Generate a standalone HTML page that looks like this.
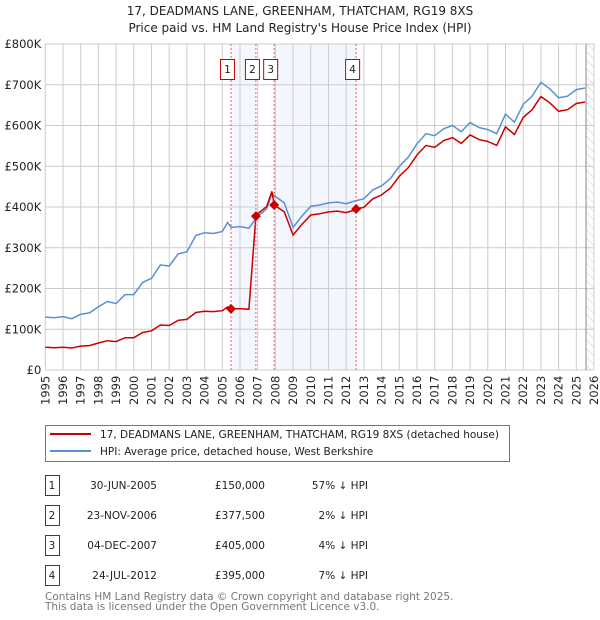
<!DOCTYPE html>
<html><head><meta charset="utf-8"><style>
body{margin:0;background:#fff;font-family:"DejaVu Sans","Liberation Sans",sans-serif;}
svg{display:block}
</style></head><body>
<svg id="chart" width="600" height="620" xmlns="http://www.w3.org/2000/svg" font-family="DejaVu Sans, Liberation Sans, sans-serif">
<defs><pattern id="hatch" width="6" height="6" patternUnits="userSpaceOnUse" patternTransform="rotate(-45)"><line x1="0" y1="0" x2="0" y2="6" stroke="#ccc" stroke-width="1"/></pattern></defs>
<text x="300" y="15" text-anchor="middle" font-size="12" fill="#222">17, DEADMANS LANE, GREENHAM, THATCHAM, RG19 8XS</text>
<text x="300" y="32" text-anchor="middle" font-size="12" fill="#222">Price paid vs. HM Land Registry's House Price Index (HPI)</text>
<g id="bg"></g><g id="grid"></g><g id="lines"></g><g id="marks"></g><g id="axes"></g>
<g>
<rect x="45.5" y="425.5" width="464" height="36" fill="#fff" stroke="#777"/>
<line x1="50" y1="434" x2="91" y2="434" stroke="#cc0000" stroke-width="2"/>
<text x="100" y="438" font-size="10.5" fill="#222">17, DEADMANS LANE, GREENHAM, THATCHAM, RG19 8XS (detached house)</text>
<line x1="50" y1="451" x2="91" y2="451" stroke="#5b8fd4" stroke-width="2"/>
<text x="100" y="455" font-size="10.5" fill="#222">HPI: Average price, detached house, West Berkshire</text>
</g>
<g id="table" font-size="10.5" fill="#222"></g>
<text x="45" y="600" font-size="10.5" fill="#777">Contains HM Land Registry data © Crown copyright and database right 2025.</text>
<text x="45" y="610" font-size="10.5" fill="#777">This data is licensed under the Open Government Licence v3.0.</text>
</svg>
<script>
const hpiYears=[1995,1995.5,1996,1996.5,1997,1997.5,1998,1998.5,1999,1999.5,2000,2000.5,2001,2001.5,2002,2002.5,2003,2003.5,2004,2004.5,2005,2005.3,2005.5,2006,2006.5,2007,2007.5,2007.8,2008.5,2009,2009.5,2010,2010.5,2011,2011.5,2012,2012.5,2013,2013.5,2014,2014.5,2015,2015.5,2016,2016.5,2017,2017.5,2018,2018.5,2019,2019.5,2020,2020.5,2021,2021.5,2022,2022.5,2023,2023.5,2024,2024.5,2025,2025.5];
const hpiValues=[130,128,131,126,137,140,155,168,163,185,185,215,225,258,255,285,290,330,337,335,340,362,350,352,348,378,395,432,410,350,378,402,405,410,412,408,415,420,442,452,470,500,522,555,580,575,592,600,585,607,595,590,580,628,608,652,672,706,690,668,672,688,692];
const saleLabels=["1","2","3","4"];
const saleDates=[2005.49,2006.9,2007.93,2012.56];
const saleDateText=["30-JUN-2005","23-NOV-2006","04-DEC-2007","24-JUL-2012"];
const salePrices=[150,377.5,405,395];
const salePriceText=["£150,000","£377,500","£405,000","£395,000"];
const saleHpiText=["57% ↓ HPI","2% ↓ HPI","4% ↓ HPI","7% ↓ HPI"];
const yTicks=[0,100,200,300,400,500,600,700,800];
const yTickLabels=["£0","£100K","£200K","£300K","£400K","£500K","£600K","£700K","£800K"];
const xTicks=[1995,1996,1997,1998,1999,2000,2001,2002,2003,2004,2005,2006,2007,2008,2009,2010,2011,2012,2013,2014,2015,2016,2017,2018,2019,2020,2021,2022,2023,2024,2025,2026];

const X0=45.3,X1=594,Y0=370,Y1=44;
const xs=t=>X0+(t-1995)/(2026-1995)*(X1-X0);
const ys=v=>Y0-v/800*(Y0-Y1);
const NS="http://www.w3.org/2000/svg";
function mk(tag,attrs,parent){const e=document.createElementNS(NS,tag);for(const k in attrs)e.setAttribute(k,attrs[k]);parent.appendChild(e);return e;}
const bg=document.getElementById('bg'),grid=document.getElementById('grid'),lines=document.getElementById('lines'),marks=document.getElementById('marks'),axes=document.getElementById('axes'),table=document.getElementById('table');
function hpiAt(t){for(let i=0;i<hpiYears.length-1;i++){if(t<=hpiYears[i+1]){const f=(t-hpiYears[i])/(hpiYears[i+1]-hpiYears[i]);return hpiValues[i]+f*(hpiValues[i+1]-hpiValues[i]);}}return hpiValues[hpiValues.length-1];}
[[0,1],[2,3]].forEach((p,i)=>{const r=mk('rect',{x:xs(saleDates[p[0]]),y:Y1,width:xs(saleDates[p[1]])-xs(saleDates[p[0]]),height:Y0-Y1,fill:'#f3f6fd'},bg);

});
const hx=xs(2025.55);
const hr=mk('rect',{x:hx,y:Y1,width:X1-hx,height:Y0-Y1,fill:'url(#hatch)'},bg);


yTicks.forEach((v,i)=>{const l=mk('line',{x1:X0,x2:X1,y1:ys(v),y2:ys(v),stroke:'#ccc'},grid);


const t=mk('text',{x:X0-4,y:ys(v)+4,'text-anchor':'end','font-size':11.5,fill:'#222'},axes);t.textContent=yTickLabels[i];

});
xTicks.forEach(yr=>{const l=mk('line',{x1:xs(yr),x2:xs(yr),y1:Y1,y2:Y0,stroke:'#ccc'},grid);


const t=mk('text',{transform:`translate(${xs(yr)+4},${Y0+35}) rotate(-90)`,'font-size':11.5,fill:'#222'},axes);t.textContent=yr;

});
mk('line',{x1:hx,x2:hx,y1:Y1,y2:Y0,stroke:'#888'},grid);
let d='';hpiYears.forEach((t,i)=>{d+=(i?'L':'M')+xs(t).toFixed(1)+','+ys(hpiValues[i]).toFixed(1);});
const hp=mk('path',{d:d,fill:'none',stroke:'#5b8fd4','stroke-width':1.5},lines);


let pd='';const pts=[];
const times=hpiYears.concat(saleDates,saleDates.map(s=>s+0.001)).sort((a,b)=>a-b);
times.forEach(t=>{let k=-1;for(let i=0;i<saleDates.length;i++)if(t>=saleDates[i])k=i;const ref=k<0?0:k;const ratio=salePrices[ref]/hpiAt(saleDates[ref]);let v=hpiAt(t)*ratio;if(k>=0&&Math.abs(t-saleDates[k])<0.0001)v=salePrices[k];pts.push([t,v]);});
pts.forEach((p,i)=>{pd+=(i?'L':'M')+xs(p[0]).toFixed(1)+','+ys(p[1]).toFixed(1);});
const pp=mk('path',{d:pd,fill:'none',stroke:'#cc0000','stroke-width':1.5},lines);


saleDates.forEach((t,i)=>{const x=xs(t);
const vl=mk('line',{x1:x,x2:x,y1:Y1,y2:Y0,stroke:'#e06060','stroke-dasharray':'2,2'},marks);


const y=ys(salePrices[i]);
const dm=mk('path',{d:`M${x},${y-5}L${x+5},${y}L${x},${y+5}L${x-5},${y}Z`,fill:'#cc0000'},marks);


const box=mk('rect',{x:x-10.5,y:59.5,width:14,height:20,fill:'#fff',stroke:'#cc0000'},marks);


const tx=mk('text',{x:x-3.5,y:73,'text-anchor':'middle','font-size':10.5,fill:'#222'},marks);tx.textContent=saleLabels[i];

});
saleLabels.forEach((s,i)=>{const y=475+i*30;
const r=mk('rect',{x:45.5,y:y+0.5,width:14,height:20,fill:'#fff',stroke:'#cc0000'},table);


const cols=[[52,s,'middle'],[157,saleDateText[i],'end'],[265,salePriceText[i],'end'],[368,saleHpiText[i],'end']];
cols.forEach((c,j)=>{const t=mk('text',{x:c[0],y:y+14,'text-anchor':c[2]},table);t.textContent=c[1];

});});
</script>
</body></html>
